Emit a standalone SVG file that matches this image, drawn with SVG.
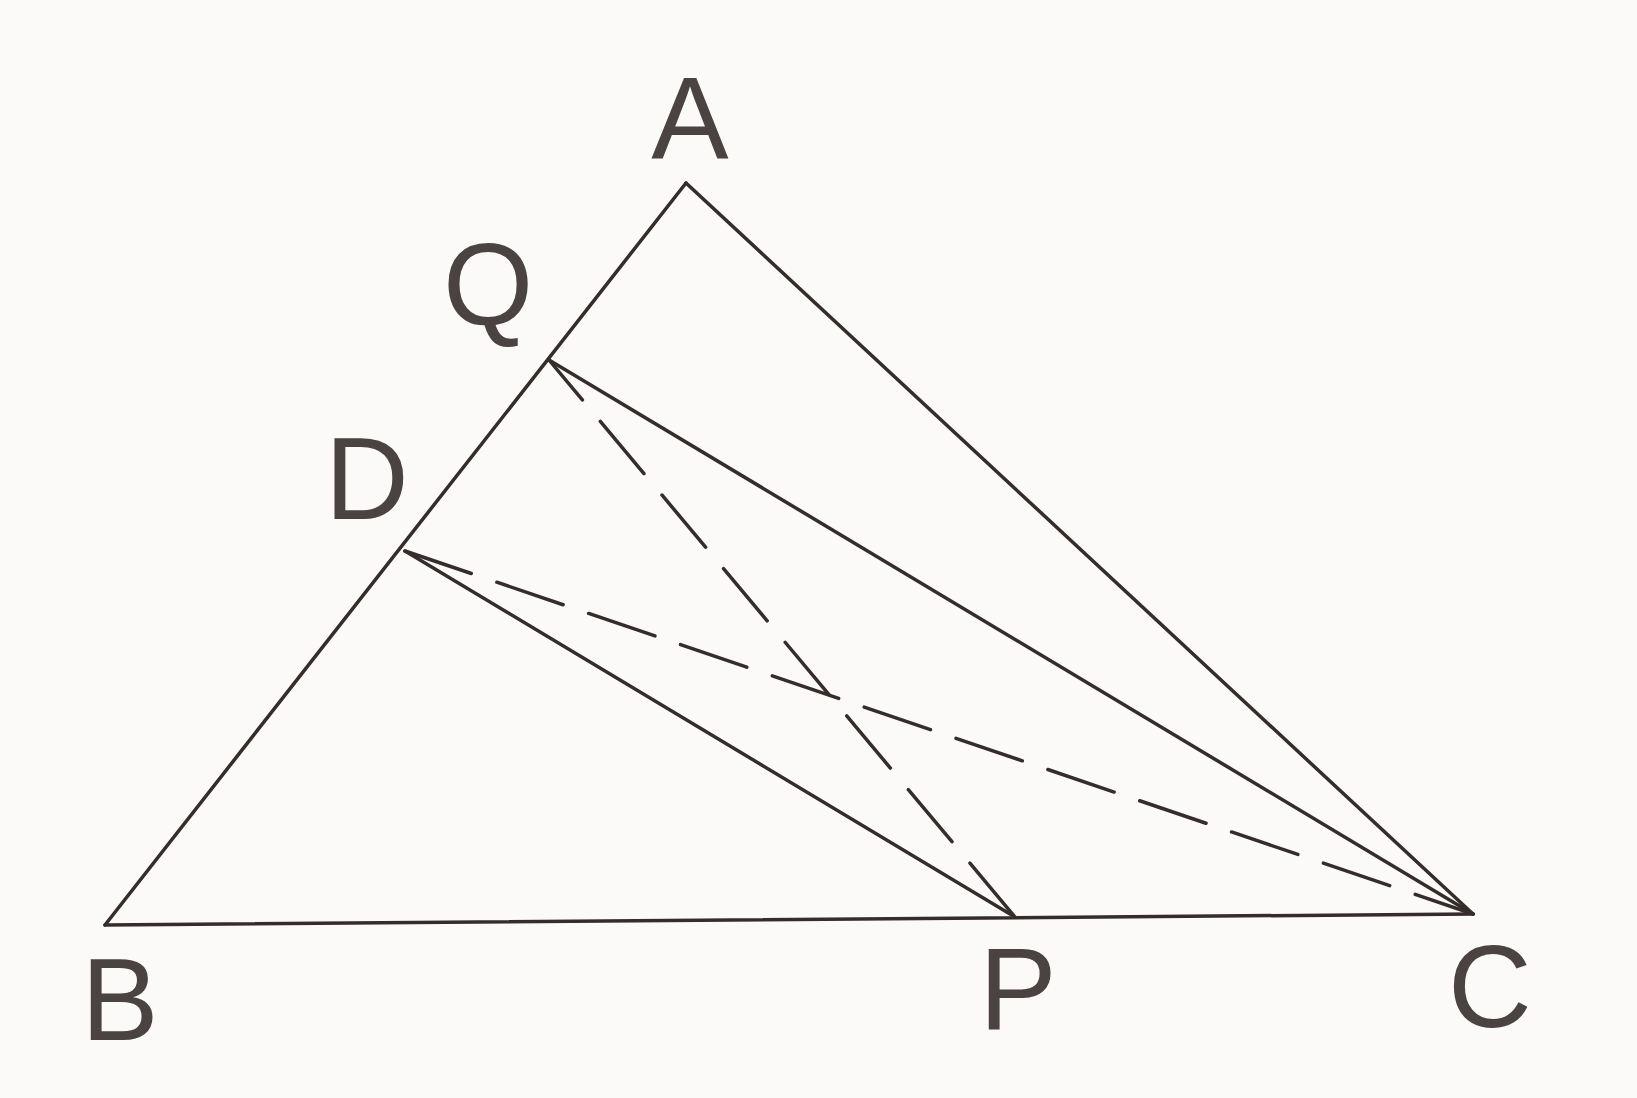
<svg xmlns="http://www.w3.org/2000/svg" width="1637" height="1098" viewBox="0 0 1637 1098">
<style>
.ln{stroke:#352d2b;stroke-width:3.5;fill:none;stroke-linecap:round}
.ds1{stroke-dasharray:68 28;stroke-dashoffset:16}
.ds2{stroke-dasharray:70 27}
.lb{font-family:"Liberation Sans",Arial,sans-serif;font-size:116px;fill:#4a4341;text-anchor:middle}
</style>
<rect width="1637" height="1098" fill="#fbfaf8"/>
<g id="connectors">
<line class="ln" x1="686" y1="183" x2="105" y2="925"/>
<line class="ln" x1="686" y1="183" x2="1473" y2="914"/>
<line class="ln" x1="105" y1="925" x2="1473" y2="914"/>
<line class="ln" x1="549" y1="360" x2="1473" y2="914"/>
<line class="ln" x1="405" y1="551" x2="1015" y2="917"/>
<line class="ln ds1" x1="549" y1="360" x2="1015" y2="917"/>
<line class="ln ds2" x1="405" y1="551" x2="1473" y2="914"/>
</g>
<g id="A"><text class="lb" x="690" y="159">A</text></g>
<g id="Q"><text class="lb" x="488" y="325">Q</text></g>
<g id="D"><text class="lb" x="367" y="519">D</text></g>
<g id="B"><text class="lb" x="120" y="1040">B</text></g>
<g id="P"><text class="lb" x="1018" y="1029">P</text></g>
<g id="C"><text class="lb" x="1490" y="1027">C</text></g>
</svg>
